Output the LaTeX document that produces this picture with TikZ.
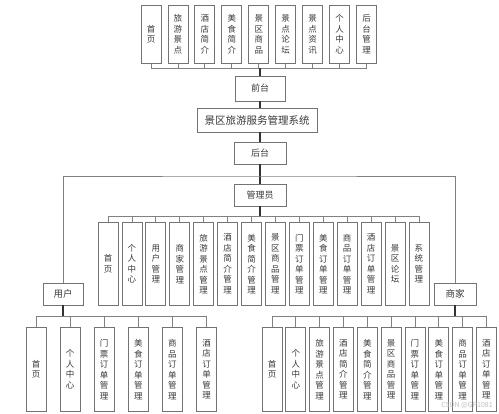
\documentclass[tikz,border=0pt]{standalone}
\usepackage{fontspec}
\setmainfont{Noto Sans CJK SC}
\usetikzlibrary{positioning,calc}
\definecolor{boxgray}{rgb}{0.45,0.45,0.45}
\definecolor{textgray}{rgb}{0.22,0.22,0.22}
\definecolor{linegray}{rgb}{0.5,0.5,0.5}
\tikzstyle{module}=[draw=boxgray,line width=0.8pt,text=textgray,inner sep=0pt,align=center]
\tikzstyle{vmodule}=[module,minimum width=20pt,text width=10pt,font=\fontsize{8.5}{10.5}\selectfont]
\tikzstyle{role}=[module,minimum height=22pt,font=\fontsize{9.5}{9.5}\selectfont]
\tikzstyle{bus}=[draw=linegray,line width=0.8pt]
\tikzstyle{trunk}=[draw=black!80,line width=1.5pt]
\begin{document}
\begin{tikzpicture}[x=1pt,y=-1pt,line width=0.8pt]
\useasboundingbox (0,0) rectangle (499,414);

% % % % % % % % % % % % % % %

\foreach \i/\texti in {1/{首\\页},2/{旅\\游\\景\\点},3/{酒\\店\\简\\介},4/{美\\食\\简\\介},5/{景\\区\\商\\品},6/{景\\点\\论\\坛},7/{景\\点\\资\\讯},8/{个\\人\\中\\心},9/{后\\台\\管\\理}} {
\node[vmodule,minimum height=58pt,anchor=north] (f\i) at ({124.06+26.94*\i},5) {\texti};
}

\coordinate (fbus) at (260,68);
\node[module,minimum width=50pt,minimum height=25pt,font=\fontsize{9}{9}\selectfont] (qiantai) at (260,88.5) {前台};
\node[module,minimum width=120pt,minimum height=24pt,font=\fontsize{10.5}{10.5}\selectfont] (xitong) at (257,120) {景区旅游服务管理系统};
\node[module,minimum width=52pt,minimum height=22pt,font=\fontsize{9}{9}\selectfont] (houtai) at (260,153) {后台};
\coordinate (split) at (260,176);
\node[module,minimum width=52pt,minimum height=22pt,font=\fontsize{9}{9}\selectfont] (guanli) at (260,195) {管理员};
\node[role,minimum width=40pt] (yonghu) at (63,294) {用户};
\node[role,minimum width=42pt] (shangjia) at (455,294) {商家};

\foreach \i in {1,...,9} {
\draw[bus] (f\i.south) -- (f\i.south |- fbus);
}
\draw[bus] (f1.south |- fbus) -- (f9.south |- fbus);
\draw[trunk] (fbus) -- (qiantai.north);
\draw[trunk] (qiantai.south) -- (qiantai.south |- xitong.north);
\draw[trunk] (xitong.south -| houtai.north) -- (houtai.north);
\draw[trunk] (houtai.south) -- (guanli.north);
\draw[bus] (yonghu.north) |- (split) -| (shangjia.north);

% % % % % % % % % % % % % % %

\coordinate (abus) at (260,216);
\foreach \i/\texti in {1/{首\\页},2/{个\\人\\中\\心},3/{用\\户\\管\\理},4/{商\\家\\管\\理},5/{旅\\游\\景\\点\\管\\理},6/{酒\\店\\简\\介\\管\\理},7/{美\\食\\简\\介\\管\\理},8/{景\\区\\商\\品\\管\\理},9/{门\\票\\订\\单\\管\\理},10/{美\\食\\订\\单\\管\\理},11/{商\\品\\订\\单\\管\\理},12/{酒\\店\\订\\单\\管\\理},13/{景\\区\\论\\坛},14/{系\\统\\管\\理}} {
\node[vmodule,minimum height=83pt,anchor=north] (a\i) at ({84.08+23.92*\i},222) {\texti};
\draw[bus] (a\i.north) -- (a\i.north |- abus);
}
\draw[bus] (a1.north |- abus) -- (a14.north |- abus);
\draw[trunk] (guanli.south) -- (abus);

% % % % % % % % % % % % % % %

\coordinate (ubus) at (63,316);
\foreach \i/\texti in {1/{首\\页},2/{个\\人\\中\\心},3/{门\\票\\订\\单\\管\\理},4/{美\\食\\订\\单\\管\\理},5/{商\\品\\订\\单\\管\\理},6/{酒\\店\\订\\单\\管\\理}} {
\node[vmodule,minimum height=84pt,anchor=north] (u\i) at ({1.9+34.1*\i},327) {\texti};
\draw[bus] (u\i.north) -- (u\i.north |- ubus);
}
\draw[bus] (u1.north |- ubus) -- (u6.north |- ubus);
\draw[trunk] (yonghu.south) -- (ubus);

\coordinate (mbus) at (455,316);
\foreach \i/\texti in {1/{首\\页},2/{个\\人\\中\\心},3/{旅\\游\\景\\点\\管\\理},4/{酒\\店\\简\\介\\管\\理},5/{美\\食\\简\\介\\管\\理},6/{景\\区\\商\\品\\管\\理},7/{门\\票\\订\\单\\管\\理},8/{美\\食\\订\\单\\管\\理},9/{商\\品\\订\\单\\管\\理},10/{酒\\店\\订\\单\\管\\理}} {
\node[vmodule,minimum height=84pt,anchor=north] (m\i) at ({248.17+23.83*\i},327) {\texti};
\draw[bus] (m\i.north) -- (m\i.north |- mbus);
}
\draw[bus] (m1.north |- mbus) -- (m10.north |- mbus);
\draw[trunk] (shangjia.south) -- (mbus);

\node[text=black!25,font=\fontsize{7}{7}\selectfont] (csdn) at (467,405) {CSDN @GP1081};

\end{tikzpicture}
\end{document}
